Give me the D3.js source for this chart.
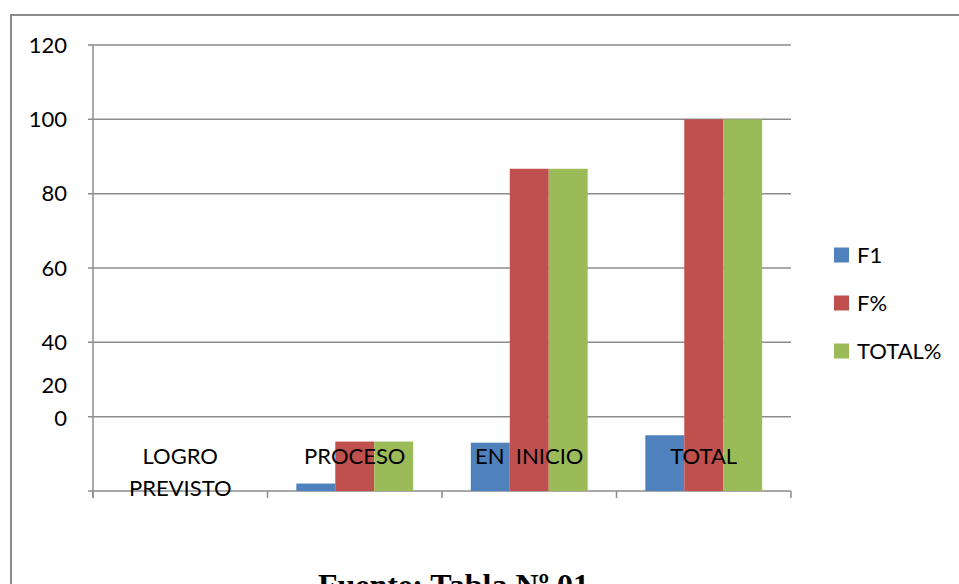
<!DOCTYPE html>
<html>
<head>
<meta charset="utf-8">
<script src="https://cdn.jsdelivr.net/npm/d3@7"></script>
<style>
  body { margin: 0; background: #fff; }
  text { font-family: Lato, "Open Sans", sans-serif; }
</style>
</head>
<body>
<div id="chart"></div>
<script>
/* DATA */
const categories = ["LOGRO PREVISTO", "PROCESO", "EN  INICIO", "TOTAL"];
const seriesNames = ["F1", "F%", "TOTAL%"];
const f1Values = [0, 2, 13, 15];
const fPctValues = [0, 13.3, 86.7, 100];
const totalPctValues = [0, 13.3, 86.7, 100];
const yTicks = [0, 20, 40, 60, 80, 100, 120];
// the y labels sit off their gridlines in the original (20 and 0 are squeezed up)
const yLabels = ["120", "100", "80", "60", "40", "20", "0"];
const yLabelAt = [120, 100, 80, 60, 40, 28.5, 19.5];
const colors = ["#4f81bd", "#c0504d", "#9bbb59"];

const width = 959, height = 584;
const margin = { top: 45, left: 93, right: 168, bottom: 93 };
const fontSize = 22;

const svg = d3.select("#chart").append("svg")
  .attr("width", width)
  .attr("height", height);

// outer chart border
svg.append("rect")
  .attr("x", 11).attr("y", 15)
  .attr("width", 980).attr("height", 620)
  .attr("fill", "none")
  .attr("stroke", "#8a8a8a")
  .attr("stroke-width", 2);

// SCALES
const x0 = d3.scaleBand()
  .domain(categories)
  .range([margin.left, width - margin.right])
  .paddingInner(0).paddingOuter(0);

const x1 = d3.scaleBand()
  .domain(seriesNames)
  .range([0, x0.bandwidth()])
  .paddingInner(0).paddingOuter(0.74);

const y = d3.scaleLinear()
  .domain([0, 120])
  .range([height - margin.bottom, margin.top]);

const x0Right = width - margin.right;

// gridlines
svg.append("g")
  .selectAll("line")
  .data(yTicks)
  .join("line")
  .attr("x1", margin.left - 5)
  .attr("x2", x0Right)
  .attr("y1", d => y(d))
  .attr("y2", d => y(d))
  .attr("stroke", "#8c8c8c")
  .attr("stroke-width", 1.5);

// left axis line
svg.append("line")
  .attr("x1", margin.left).attr("x2", margin.left)
  .attr("y1", y(120)).attr("y2", y(0) + 7)
  .attr("stroke", "#8c8c8c").attr("stroke-width", 1.5);

// bottom category tick marks
const boundaries = categories.map(c => x0(c)).concat([x0Right]);
svg.append("g")
  .selectAll("line")
  .data(boundaries)
  .join("line")
  .attr("x1", d => d).attr("x2", d => d)
  .attr("y1", y(0)).attr("y2", y(0) + 7)
  .attr("stroke", "#8c8c8c").attr("stroke-width", 1.5);

// y labels
svg.append("g")
  .selectAll("text")
  .data(yLabels)
  .join("text")
  .attr("x", 67)
  .attr("y", (d, i) => y(yLabelAt[i]))
  .attr("dy", "0.35em")
  .attr("text-anchor", "end")
  .attr("font-size", fontSize)
  .attr("fill", "#000")
  .text(d => d);

// bars
const rows = categories.map((c, i) => ({
  cat: c,
  vals: [f1Values[i], fPctValues[i], totalPctValues[i]]
}));

const groups = svg.append("g")
  .selectAll("g")
  .data(rows)
  .join("g")
  .attr("transform", d => `translate(${x0(d.cat)},0)`);

groups.selectAll("rect")
  .data(d => d.vals.map((v, j) => ({ key: seriesNames[j], value: v, j })))
  .join("rect")
  .attr("x", d => x1(d.key))
  .attr("width", x1.bandwidth())
  .attr("y", d => y(d.value))
  .attr("height", d => y(0) - y(d.value))
  .attr("fill", d => colors[d.j]);

// category labels (drawn over the bars)
const catLabels = svg.append("g")
  .selectAll("text")
  .data(categories)
  .join("text")
  .attr("x", d => x0(d) + x0.bandwidth() / 2)
  .attr("y", 456)
  .attr("text-anchor", "middle")
  .attr("font-size", fontSize)
  .attr("fill", "#000")
  .style("white-space", "pre");

catLabels.each(function(d) {
  const el = d3.select(this);
  const parts = d === "LOGRO PREVISTO" ? ["LOGRO", "PREVISTO"] : [d];
  parts.forEach((p, k) => {
    el.append("tspan")
      .attr("x", x0(d) + x0.bandwidth() / 2)
      .attr("dy", k === 0 ? "0.35em" : "1.45em")
      .text(p);
  });
});

// legend
const legend = svg.append("g")
  .selectAll("g")
  .data(seriesNames)
  .join("g")
  .attr("transform", (d, i) => `translate(834,${255 + i * 48})`);

legend.append("rect")
  .attr("x", 0).attr("y", -7.5)
  .attr("width", 15).attr("height", 15)
  .attr("fill", (d, i) => colors[i]);

legend.append("text")
  .attr("x", 23)
  .attr("dy", "0.35em")
  .attr("font-size", fontSize)
  .attr("fill", "#000")
  .text(d => d);

// source caption (cut off at the bottom edge, as in the original)
svg.append("text")
  .attr("x", 318)
  .attr("y", 596)
  .style("font-family", "'Liberation Serif', 'Times New Roman', serif")
  .attr("font-weight", "bold")
  .attr("font-size", 32)
  .attr("fill", "#000")
  .text("Fuente: Tabla Nº 01");
</script>
</body>
</html>
